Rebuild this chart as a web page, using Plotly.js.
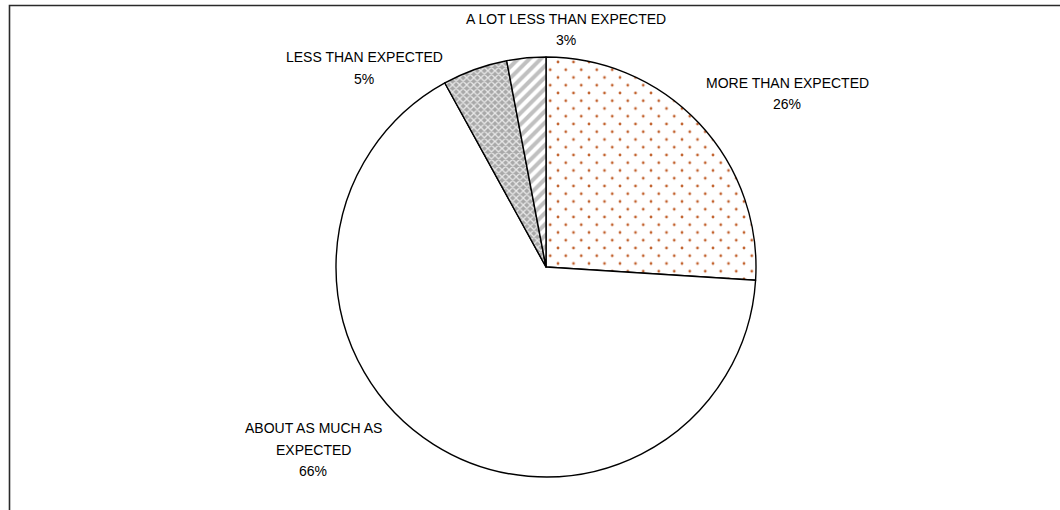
<!DOCTYPE html>
<html>
<head>
<meta charset="utf-8">
<script src="https://cdn.plot.ly/plotly-3.0.1.min.js"></script>
<style>
  html, body { margin: 0; padding: 0; background: #fff; }
  #chart { width: 1060px; height: 510px; }
</style>
</head>
<body>
<div id="chart"></div>
<script>
// Answer categories (line breaks mark where a label wraps)
const categories = [
  'MORE THAN EXPECTED',
  'ABOUT AS MUCH AS<br>EXPECTED',
  'LESS THAN EXPECTED',
  'A LOT LESS THAN EXPECTED'
];
// Share of responses, percent
const shares = [26, 66, 5, 3];
// Label centre (first line) for each slice, in pixels from the top-left corner
const labelX = [787, 313, 364, 566];
const labelY = [83, 428, 57, 19];

// Fill styles per slice
const fillBg = ['#ffffff', '#ffffff', '#a8a8a8', '#ffffff'];
const fillFg = ['#c2622e', '#ffffff', '#e8e8e8', '#c0c0c0'];
const fillShape = ['.', '', 'x', '/'];
const fillSize = [15.5, 8, 5, 8];
const fillSolidity = [0.025, 0.3, 0.45, 0.5];

const W = 1060, H = 510;
const cx = 546, cy = 267, R = 210;
const lineGap = 21.5;

const trace = {
  type: 'pie',
  labels: categories,
  values: shares,
  sort: false,
  direction: 'clockwise',
  rotation: 0,
  textinfo: 'none',
  hoverinfo: 'label+percent',
  showlegend: false,
  domain: {
    x: [(cx - R) / W, (cx + R) / W],
    y: [(H - cy - R) / H, (H - cy + R) / H]
  },
  marker: {
    colors: fillBg,
    line: { color: '#000000', width: 1.4 },
    pattern: {
      shape: fillShape,
      fgcolor: fillFg,
      bgcolor: fillBg,
      size: fillSize,
      solidity: fillSolidity,
      fillmode: 'replace'
    }
  }
};

// One annotation per text line, percent line last
const annotations = [];
categories.forEach((cat, i) => {
  const lines = cat.split('<br>').concat([shares[i] + '%']);
  lines.forEach((txt, k) => {
    annotations.push({
      xref: 'paper', yref: 'paper',
      x: labelX[i] / W,
      y: 1 - (labelY[i] + k * lineGap) / H,
      xanchor: 'center', yanchor: 'middle',
      text: txt,
      showarrow: false,
      font: { family: 'Liberation Sans, Arial, sans-serif', size: 14, color: '#000000' }
    });
  });
});

const layout = {
  width: W,
  height: H,
  margin: { l: 0, r: 0, t: 0, b: 0 },
  paper_bgcolor: '#ffffff',
  plot_bgcolor: '#ffffff',
  annotations: annotations,
  shapes: [{
    type: 'rect', xref: 'paper', yref: 'paper',
    x0: 9.5 / W, x1: 1.05,
    y0: -0.05, y1: 1 - 5.5 / H,
    line: { color: '#2a2a2a', width: 1.6 },
    fillcolor: 'rgba(0,0,0,0)'
  }]
};

Plotly.newPlot('chart', [trace], layout, { displayModeBar: false, staticPlot: true })
  .then(gd => {
    // Stagger the dot fill: add quarter dots at the tile corners so the
    // dots sit on alternating rows
    gd.querySelectorAll('defs pattern').forEach(p => {
      const dot = p.querySelector('circle');
      if (!dot) return;
      const w = parseFloat(p.getAttribute('width'));
      const h = parseFloat(p.getAttribute('height'));
      [[0, 0], [w, 0], [0, h], [w, h]].forEach(([x, y]) => {
        const c = dot.cloneNode();
        c.setAttribute('cx', x);
        c.setAttribute('cy', y);
        dot.parentNode.appendChild(c);
      });
    });
  });
</script>
</body>
</html>
